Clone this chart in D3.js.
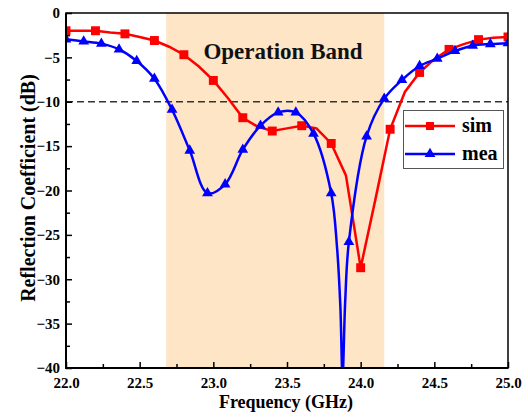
<!DOCTYPE html>
<html>
<head>
<meta charset="utf-8">
<script src="https://cdn.jsdelivr.net/npm/d3@7"></script>
<style>
	body { margin: 0; background: #fff; }
	text { font-family: "Liberation Serif", "Times New Roman", serif; font-weight: bold; }
</style>
</head>
<body>
<div id="chart_div"></div>
<script>
////////////////////////////////////////
// data
////////////////////////////////////////

// simulated S11, one sample every 0.1 GHz (marker on every other one)
var simFreq = [22.0,22.1,22.2,22.3,22.4,22.5,22.6,22.7,22.8,22.9,23.0,23.1,23.2,23.3,23.4,23.5,23.6,23.7,23.8,23.9,24.0,24.1,24.2,24.3,24.4,24.5,24.6,24.7,24.8,24.9,25.0];
var simVal  = [-2.0,-2.0,-2.0,-2.2,-2.35,-2.7,-3.1,-3.8,-4.7,-6.0,-7.6,-9.6,-11.8,-12.8,-13.3,-13.0,-12.7,-13.0,-14.7,-18.3,-28.7,-21.0,-13.1,-8.9,-6.7,-5.2,-4.1,-3.5,-3.0,-2.8,-2.7];

// measured S11, marker points every 0.12 GHz
var meaFreq = [22.00,22.12,22.24,22.36,22.48,22.60,22.72,22.84,22.96,23.08,23.20,23.32,23.44,23.56,23.68,23.80,23.92,24.04,24.16,24.28,24.40,24.52,24.64,24.76,24.88,25.00];
var meaVal  = [-2.97,-3.2,-3.45,-4.1,-5.4,-7.4,-10.9,-15.5,-20.3,-19.3,-15.4,-12.7,-11.2,-11.2,-13.6,-20.3,-25.8,-13.9,-9.65,-7.55,-5.97,-5.15,-4.28,-3.68,-3.5,-3.4];
// extra samples of the measured curve inside the deep notch (no markers)
var notchFreq = [23.84,23.862,23.877,23.895];
var notchVal  = [-26.5,-33.0,-41.0,-32.5];

var bandStart = 22.68;
var bandEnd = 24.16;
var refLevel = -10;

var xMajor = [22.0,22.5,23.0,23.5,24.0,24.5,25.0];
var xMinor = [22.25,22.75,23.25,23.75,24.25,24.75];
var yMajor = [0,-5,-10,-15,-20,-25,-30,-35,-40];
var yMinor = [-2.5,-7.5,-12.5,-17.5,-22.5,-27.5,-32.5,-37.5];

////////////////////////////////////////
// layout
////////////////////////////////////////

var chart_w = 528;
var chart_h = 417;
var plot_l = 66;
var plot_r = 508;
var plot_t = 13;
var plot_b = 368;

var svg = d3.select('#chart_div').append('svg')
	.attr('width',chart_w)
	.attr('height',chart_h);

var x = d3.scaleLinear().domain([22,25]).range([plot_l,plot_r]);
var y = d3.scaleLinear().domain([-40,0]).range([plot_b,plot_t]);

svg.append('clipPath')
	.attr('id','plotClip')
	.append('rect')
	.attr('x',plot_l)
	.attr('y',plot_t)
	.attr('width',plot_r-plot_l)
	.attr('height',plot_b-plot_t);

// operation band
svg.append('rect')
	.attr('x',x(bandStart))
	.attr('y',plot_t)
	.attr('width',x(bandEnd)-x(bandStart))
	.attr('height',plot_b-plot_t)
	.attr('fill','#fde5c6');

svg.append('text')
	.attr('x',283)
	.attr('y',59)
	.attr('text-anchor','middle')
	.attr('font-size',23)
	.attr('fill','#111')
	.text('Operation Band');

// -10 dB reference
svg.append('line')
	.attr('x1',plot_l)
	.attr('x2',plot_r)
	.attr('y1',y(refLevel))
	.attr('y2',y(refLevel))
	.attr('stroke','#333')
	.attr('stroke-width',1.5)
	.attr('stroke-dasharray','7,4');

////////////////////////////////////////
// curves
////////////////////////////////////////

var plot = svg.append('g').attr('clip-path','url(#plotClip)');

var simData = simFreq.map(function(f,i){ return {f:f, v:simVal[i], mark:i%2==0}; });
var meaData = meaFreq.map(function(f,i){ return {f:f, v:meaVal[i], mark:true}; })
	.concat(notchFreq.map(function(f,i){ return {f:f, v:notchVal[i], mark:false}; }))
	.sort(function(a,b){ return a.f-b.f; });

var simLine = d3.line()
	.x(function(d){ return x(d.f); })
	.y(function(d){ return y(d.v); });

var meaLine = d3.line()
	.curve(d3.curveCatmullRom.alpha(0.5))
	.x(function(d){ return x(d.f); })
	.y(function(d){ return y(d.v); });

plot.append('path')
	.datum(simData)
	.attr('d',simLine)
	.attr('fill','none')
	.attr('stroke','#ff0000')
	.attr('stroke-width',2.5);

plot.selectAll('.simMark')
	.data(simData.filter(function(d){ return d.mark; }))
	.enter().append('path')
	.attr('class','simMark')
	.attr('d',d3.symbol().type(d3.symbolSquare).size(80))
	.attr('transform',function(d){ return 'translate('+x(d.f)+','+y(d.v)+')'; })
	.attr('fill','#ff0000');

plot.append('path')
	.datum(meaData)
	.attr('d',meaLine)
	.attr('fill','none')
	.attr('stroke','#0000ff')
	.attr('stroke-width',2.5);

plot.selectAll('.meaMark')
	.data(meaData.filter(function(d){ return d.mark; }))
	.enter().append('path')
	.attr('class','meaMark')
	.attr('d',d3.symbol().type(d3.symbolTriangle).size(50))
	.attr('transform',function(d){ return 'translate('+x(d.f)+','+y(d.v)+')'; })
	.attr('fill','#0000ff');

////////////////////////////////////////
// axes
////////////////////////////////////////

svg.append('rect')
	.attr('x',plot_l)
	.attr('y',plot_t)
	.attr('width',plot_r-plot_l)
	.attr('height',plot_b-plot_t)
	.attr('fill','none')
	.attr('stroke','#000')
	.attr('stroke-width',1.5);

svg.append('g')
	.attr('transform','translate(0,'+plot_b+')')
	.call(d3.axisBottom(x).tickValues(xMajor).tickSize(-6).tickPadding(9).tickFormat(d3.format('.1f')));
svg.append('g')
	.attr('transform','translate(0,'+plot_b+')')
	.call(d3.axisBottom(x).tickValues(xMinor).tickSize(-4).tickFormat(''));

svg.append('g')
	.attr('transform','translate('+plot_l+',0)')
	.call(d3.axisLeft(y).tickValues(yMajor).tickSize(-6).tickPadding(6).tickFormat(d3.format('d')));
svg.append('g')
	.attr('transform','translate('+plot_l+',0)')
	.call(d3.axisLeft(y).tickValues(yMinor).tickSize(-4).tickFormat(''));

svg.selectAll('.domain').remove();
svg.selectAll('.tick line').attr('stroke','#000').attr('stroke-width',1.5);
svg.selectAll('.tick text')
	.attr('font-size',15)
	.attr('fill','#000');

// heavier left and bottom spines
svg.append('line')
	.attr('x1',plot_l).attr('x2',plot_l)
	.attr('y1',plot_t).attr('y2',plot_b+1)
	.attr('stroke','#000').attr('stroke-width',2);
svg.append('line')
	.attr('x1',plot_l-1).attr('x2',plot_r)
	.attr('y1',plot_b).attr('y2',plot_b)
	.attr('stroke','#000').attr('stroke-width',2);

svg.append('text')
	.attr('x',286)
	.attr('y',408)
	.attr('text-anchor','middle')
	.attr('font-size',18)
	.text('Frequency (GHz)');

svg.append('text')
	.attr('transform','translate(35,188) rotate(-90)')
	.attr('text-anchor','middle')
	.attr('font-size',20)
	.text('Reflection Coefficient (dB)');

////////////////////////////////////////
// legend
////////////////////////////////////////

var legend = svg.append('g');
legend.append('rect')
	.attr('x',403.5)
	.attr('y',110.5)
	.attr('width',100)
	.attr('height',58)
	.attr('fill','#fff')
	.attr('stroke','#555')
	.attr('stroke-width',1);

var legendItems = [
	{name:'sim', color:'#ff0000', symbol:d3.symbolSquare, size:64, y:126},
	{name:'mea', color:'#0000ff', symbol:d3.symbolTriangle, size:50, y:154}
];

legendItems.forEach(function(item){
	legend.append('line')
		.attr('x1',405).attr('x2',455)
		.attr('y1',item.y).attr('y2',item.y)
		.attr('stroke',item.color)
		.attr('stroke-width',2.5);
	legend.append('path')
		.attr('d',d3.symbol().type(item.symbol).size(item.size))
		.attr('transform','translate(430,'+item.y+')')
		.attr('fill',item.color);
	legend.append('text')
		.attr('x',462)
		.attr('y',item.y+6)
		.attr('font-size',20)
		.text(item.name);
});
</script>
</body>
</html>
